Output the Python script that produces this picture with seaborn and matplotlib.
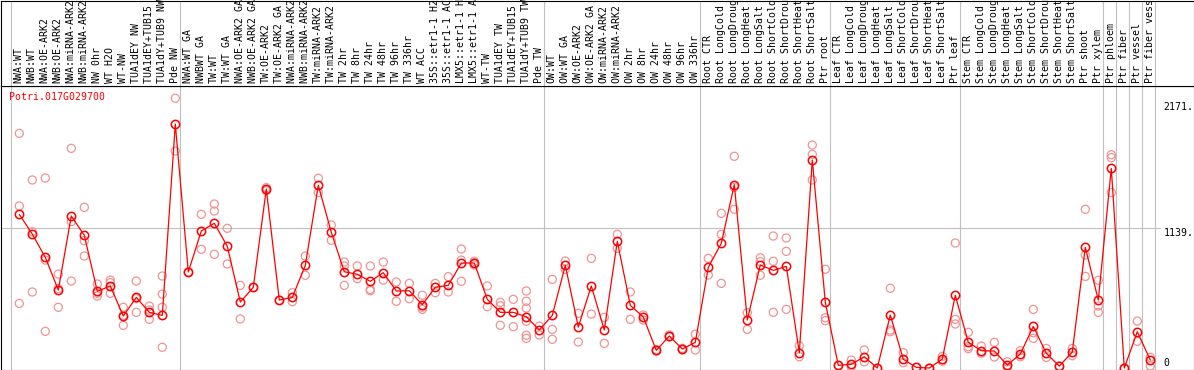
import numpy as np
import pandas as pd
import matplotlib
matplotlib.use("Agg")
import matplotlib.pyplot as plt
import seaborn as sns

sns.set_style("white")
plt.rcParams['font.family'] = ['DejaVu Sans Mono', 'DejaVu Sans']

# sample labels, in plot order
labels = [
    "NWA:WT", "NWB:WT", "NWA:OE-ARK2", "NWB:OE-ARK2", "NWA:miRNA-ARK2", "NWB:miRNA-ARK2",
    "NW 0hr", "WT H2O", "WT-NW", "TUA1dEY NW", "TUA1dEY+TUB15 NW", "TUA1dY+TUB9 NW", "Pde NW",
    "NWA:WT GA", "NWBWT GA", "TW:WT", "TW:WT GA", "NWA:OE-ARK2 GA", "NWB:OE-ARK2 GA",
    "TW:OE-ARK2", "TW:OE-ARK2 GA", "NWA:miRNA-ARK2 GA", "NWB:miRNA-ARK2 GA", "TW:miRNA-ARK2",
    "TW:miRNA-ARK2 GA", "TW 2hr", "TW 8hr", "TW 24hr", "TW 48hr", "TW 96hr", "TW 336hr",
    "WT ACC", "35S::etr1-1 H2O", "35S::etr1-1 ACC", "LMX5::etr1-1 H2O", "LMX5::etr1-1 ACC",
    "WT-TW", "TUA1dEY TW", "TUA1dEY+TUB15 TW", "TUA1dY+TUB9 TW", "Pde TW",
    "OW:WT", "OW:WT GA", "OW:OE-ARK2", "OW:OE-ARK2 GA", "OW:miRNA-ARK2", "OW:miRNA-ARK2 GA",
    "OW 2hr", "OW 8hr", "OW 24hr", "OW 48hr", "OW 96hr", "OW 336hr",
    "Root CTR", "Root LongCold", "Root LongDrought", "Root LongHeat", "Root LongSalt",
    "Root ShortCold", "Root ShortDrought", "Root ShortHeat", "Root ShortSalt", "Ptr root",
    "Leaf CTR", "Leaf LongCold", "Leaf LongDrought", "Leaf LongHeat", "Leaf LongSalt",
    "Leaf ShortCold", "Leaf ShortDrought", "Leaf ShortHeat", "Leaf ShortSalt", "Ptr leaf",
    "Stem CTR", "Stem LongCold", "Stem LongDrought", "Stem LongHeat", "Stem LongSalt",
    "Stem ShortCold", "Stem ShortDrought", "Stem ShortHeat", "Stem ShortSalt", "Ptr shoot",
    "Ptr xylem", "Ptr phloem", "Ptr fiber", "Ptr vessel", "Ptr fiber vessel",
]

# first sample index of each group (separator lines go before these)
group_starts = [0, 13, 41, 53, 63, 73, 84, 85, 86, 87, 88]

# mean expression per sample
means = [
    1253, 1092, 902, 636, 1239, 1082, 625, 669, 424, 576, 454, 429, 1989,
    783, 1117, 1180, 992, 538, 658, 1459, 554, 576, 837, 1490, 1106, 785, 764,
    707, 777, 628, 630, 516, 658, 674, 856, 856, 560, 454, 454, 418, 310,
    429, 837, 334, 669, 310, 1033, 511, 416, 144, 261, 155, 209,
    821, 1017, 1495, 391, 840, 796, 829, 125, 1696, 536,
    22, 30, 92, 0, 432, 71, 5, 0, 73, 593,
    209, 141, 139, 24, 114, 340, 120, 16, 130, 984, 554,
    1628, 0, 296, 65,
]

# individual replicates per sample
replicates = [
    [1913, 1321, 527], [1533, 1111, 620], [1549, 880, 299], [766, 495, 647],
    [1791, 1193, 709], [1310, 1038, 913], [685, 587, 609], [717, 696, 609],
    [495, 348, 430], [709, 454, 566], [505, 397, 473], [750, 603, 495, 169],
    [2199, 1769], [783], [1253, 968], [1337, 1280, 927], [1139, 848], [674, 400],
    [658], [1470, 1446], [554], [614, 541], [913, 756], [1547, 1430], [1166, 1041],
    [864, 832, 674], [832, 728], [832, 641, 630], [864, 717], [701, 544], [690, 565],
    [593, 478, 495], [690, 614], [745, 620], [970, 880, 707], [870, 856, 840],
    [669, 500], [536, 508, 348], [560, 337], [628, 544, 489, 381, 267, 242],
    [342, 269], [723, 315, 234], [872, 805], [446, 212], [894, 440], [413, 201],
    [1090, 976], [620, 397], [432, 391], [150, 138], [270, 255], [160, 150],
    [275, 147], [894, 758], [1261, 1090, 690], [1726, 1473, 1294], [451, 315],
    [899, 867, 756], [1076, 870, 454], [1060, 951, 478], [182, 92],
    [1818, 1742, 1533], [805, 410, 386], [22], [65, 10], [147, 51], [0],
    [650, 310, 296], [125, 43], [5], [0], [95, 55], [1019, 397, 359],
    [291, 174, 158], [179, 120], [209, 90], [51, 5], [141, 92], [478, 242, 288],
    [160, 87], [16], [160, 100], [1294, 921, 747], [715, 505, 454],
    [1739, 1715, 1430], [0], [383, 218], [87, 16],
]

gene = "Potri.017G029700"
ytick_vals = [2171, 1139, 0]
ytick_text = ["2171.", "1139.", "0"]

mean_df = pd.DataFrame({"pos": np.arange(len(means)), "value": means})
rep_df = pd.DataFrame(
    [(i, v) for i, reps in enumerate(replicates) for v in reps],
    columns=["pos", "value"],
)

W, H = 1194, 370
fig = plt.figure(figsize=(W / 100, H / 100), dpi=100)
header_px = 86
ax = fig.add_axes([0.5 / W, 0.5 / H, 1 - 1 / W, (H - header_px - 0.5) / H])
hax = fig.add_axes([0.5 / W, (H - header_px) / H, 1 - 1 / W, (header_px - 0.5) / H])

px = 13.0
x0 = 19.3
xlim = ((0.5 - x0) / px, (W - 0.5 - x0) / px)
for a in (ax, hax):
    a.set_xlim(*xlim)
    a.set_xticks([])
    a.set_yticks([])
    for s in a.spines.values():
        s.set_color("black")
        s.set_linewidth(0.8)
    for g in group_starts:
        a.axvline(g - 0.66, color="#c0c0c0", lw=0.8, zorder=0)
hax.set_ylim(0, 1)

ax.set_ylim(-12, 2299)
ax.axhline(1139, xmin=0, xmax=1160 / W, color="#c0c0c0", lw=0.8, zorder=0)

pink = (0.94, 0.58, 0.58)
sns.scatterplot(data=rep_df, x="pos", y="value", ax=ax, marker="o", s=34,
                color=pink, facecolor="none", edgecolor=pink, linewidth=0.9,
                zorder=2, legend=False)
sns.lineplot(data=mean_df, x="pos", y="value", ax=ax, color="red", lw=0.9,
             marker="o", markersize=6, markerfacecolor="none",
             markeredgecolor="red", markeredgewidth=1.1, zorder=3)
ax.set_xlabel("")
ax.set_ylabel("")

for i, lab in enumerate(labels):
    hax.text(i - 0.05, 3.5 / header_px, lab, rotation=90, ha="center", va="bottom",
             fontsize=7.1, color="black")

ax.text(8.5 / W, 1 - 11 / 283.5, gene, transform=ax.transAxes, ha="left",
        va="center", fontsize=7.1, color="red")

tx = ax.get_yaxis_transform()
xl = 1164 / W
for v, t in zip(ytick_vals, ytick_text):
    ax.text(xl, v, t, transform=tx, ha="left", va="bottom" if v == 0 else "top",
            fontsize=7.1, color="black")

fig.savefig("out.png", dpi=100)
